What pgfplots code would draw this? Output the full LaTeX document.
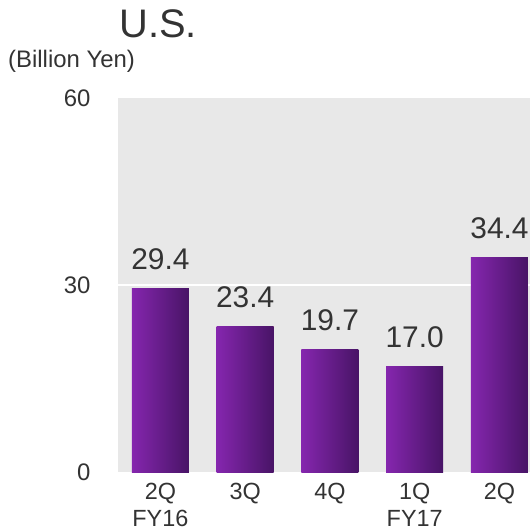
\documentclass[border=0pt]{standalone}
\usepackage{pgfplots}
\pgfplotsset{compat=1.18}
\usepackage{fontspec}
\setmainfont{Liberation Sans}
\definecolor{bg}{RGB}{232,232,232}
\definecolor{barL}{RGB}{133,38,174}
\definecolor{barR}{RGB}{72,20,102}
\definecolor{txt}{RGB}{51,51,51}
\begin{document}
\begin{tikzpicture}
\begin{axis}[
  scale only axis, width=412bp, height=374bp,
  xmin=-0.5, xmax=4.36, ymin=0, ymax=60,
  axis line style={draw=none},
  axis background/.style={fill=bg},
  ytick={0,60},
  extra y ticks={30},
  extra y tick style={ymajorgrids=true},
  grid style={white, line width=2bp},
  major tick length=0pt,
  xtick={0,1,2,3,4},
  xticklabels={{2Q\\FY16},3Q,4Q,{1Q\\FY17},2Q},
  xticklabel style={align=center, font=\fontsize{23.5}{27}\selectfont, text=txt, anchor=north, yshift=-8bp},
  yticklabel style={font=\fontsize{24}{26}\selectfont, text=txt, anchor=east, xshift=-24bp},
  /pgf/number format/assume math mode=true,
  ybar, bar width=57bp, bar shift=0pt,
  nodes near coords,
  nodes near coords style={font=\fontsize{30}{32}\selectfont, text=txt, anchor=base, yshift=19bp, inner sep=0pt,
    /pgf/number format/.cd, fixed, fixed zerofill, precision=1},
  clip=false,
  every axis plot/.append style={draw=none, left color=barL, right color=barR},
]
\addplot coordinates {(0,29.4)};
\addplot coordinates {(1,23.4)};
\addplot coordinates {(2,19.7)};
\addplot coordinates {(3,17.0)};
\addplot coordinates {(4,34.4)};
\coordinate (O) at (rel axis cs:0,0);
\end{axis}
\node[anchor=base, text=txt, font=\fontsize{40}{42}\selectfont] at ([shift={(40bp,434bp)}]O) {U.S.};
\node[anchor=base west, inner sep=0pt, text=txt, font=\fontsize{24}{26}\selectfont] at ([shift={(-110bp,404bp)}]O) {(Billion Yen)};
\pgfresetboundingbox
\path[use as bounding box] ([shift={(-118bp,-58bp)}]O) rectangle ++(530bp,530bp);
\end{tikzpicture}
\end{document}
